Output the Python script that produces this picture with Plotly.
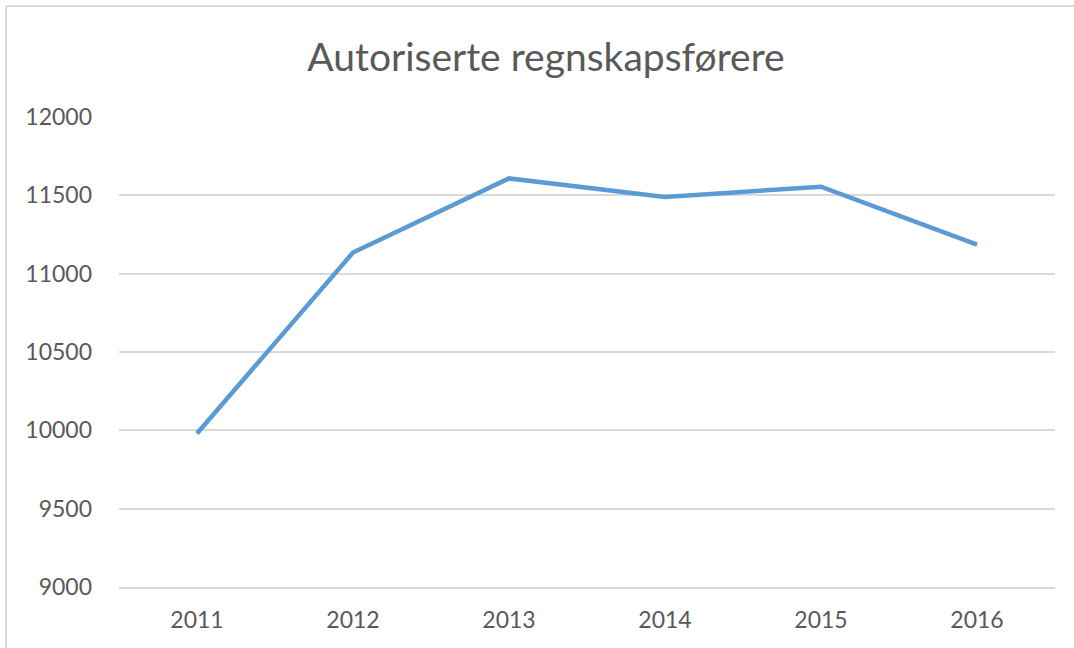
import plotly.graph_objects as go

years = ["2011", "2012", "2013", "2014", "2015", "2016"]
values = [9980, 11135, 11608, 11490, 11555, 11185]
y_ticks = [9000, 9500, 10000, 10500, 11000, 11500, 12000]

W, H = 1074, 648
ml, mr, mt, mb = 119, 19, 117, 61
pw, ph = W - ml - mr, H - mt - mb
FONT = "Lato, Open Sans, sans-serif"

fig = go.Figure()
fig.add_trace(go.Scatter(
    x=years, y=values, mode="lines",
    line=dict(color="#5B9BD5", width=4.5),
    hoverinfo="x+y",
))

bx0 = (6 - ml) / pw          # left border position (paper units)
by1 = (H - 6 - mb) / ph      # top border position (paper units)
bx1 = (W + 10 - ml) / pw
by0 = (-10 - mb) / ph
border = dict(color="#D9D9D9", width=2)

fig.update_layout(
    width=W, height=H,
    margin=dict(l=ml, r=mr, t=mt, b=mb),
    paper_bgcolor="white", plot_bgcolor="white",
    showlegend=False,
    font=dict(family=FONT, color="#595959"),
    title=dict(
        text="Autoriserte regnskapsførere",
        x=546 / W, xanchor="center",
        y=1 - 57 / H, yanchor="middle",
        font=dict(size=39, color="#595959", family=FONT),
    ),
    xaxis=dict(
        type="category", range=[-0.5, 5.5],
        showgrid=False, zeroline=False,
        showline=True, linecolor="#D9D9D9", linewidth=1.5,
        ticks="", tickfont=dict(size=23, color="#595959"),
        ticklabelstandoff=12,
    ),
    yaxis=dict(
        range=[9000, 12000], tickvals=y_ticks,
        ticktext=[str(v) for v in y_ticks],
        showgrid=True, gridcolor="#D9D9D9", gridwidth=1.5,
        zeroline=False, showline=False, ticks="",
        tickfont=dict(size=23, color="#595959"),
        ticklabelstandoff=26,
    ),
    shapes=[
        dict(type="line", xref="paper", yref="paper",
             x0=bx0, x1=bx1, y0=by1, y1=by1, line=border, layer="below"),
        dict(type="line", xref="paper", yref="paper",
             x0=bx0, x1=bx0, y0=by0, y1=by1, line=border, layer="below"),
    ],
)

fig.write_html(
    "out.html",
    config={"displayModeBar": False},
    post_script="document.body.style.margin='0';document.body.style.overflow='hidden';",
)
